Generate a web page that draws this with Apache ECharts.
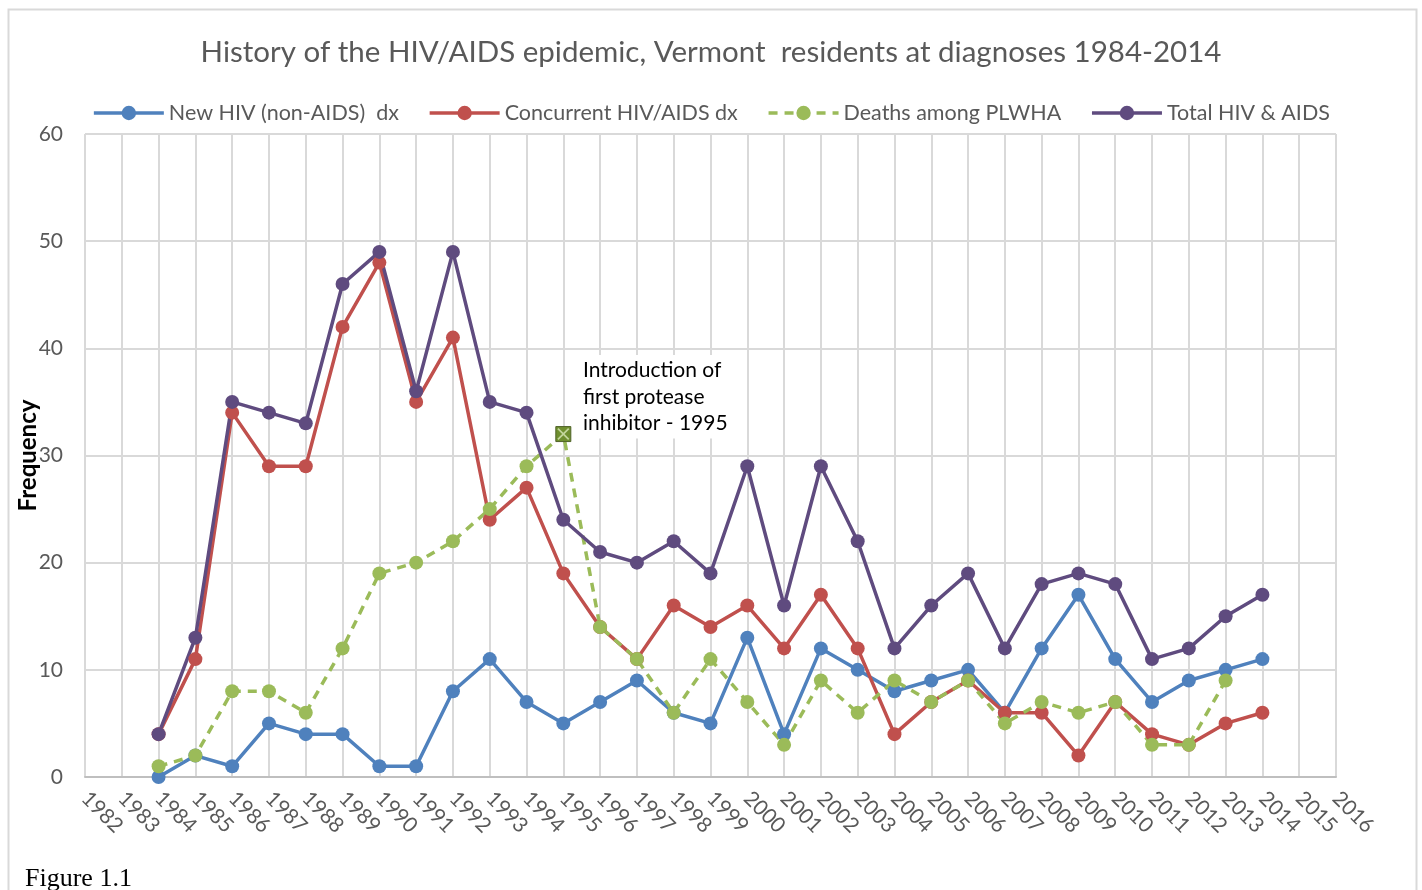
<!DOCTYPE html>
<html>
<head>
<meta charset="utf-8">
<script src="https://cdn.jsdelivr.net/npm/echarts@6/dist/echarts.min.js"></script>
<style>html,body{margin:0;padding:0;background:#fff;}#chart{width:1422px;height:890px;}</style>
</head>
<body>
<div id="chart"></div>
<script>
const years = [1984,1985,1986,1987,1988,1989,1990,1991,1992,1993,1994,1995,1996,1997,1998,1999,2000,2001,2002,2003,2004,2005,2006,2007,2008,2009,2010,2011,2012,2013,2014];
const newHIV = [0,2,1,5,4,4,1,1,8,11,7,5,7,9,6,5,13,4,12,10,8,9,10,6,12,17,11,7,9,10,11];
const concurrent = [4,11,34,29,29,42,48,35,41,24,27,19,14,11,16,14,16,12,17,12,4,7,9,6,6,2,7,4,3,5,6];
const deaths = [1,2,8,8,6,12,19,20,22,25,29,32,14,11,6,11,7,3,9,6,9,7,9,5,7,6,7,3,3,9,null];
const total = [4,13,35,34,33,46,49,36,49,35,34,24,21,20,22,19,29,16,29,22,12,16,19,12,18,19,18,11,12,15,17];
const seriesNames = ['New HIV (non-AIDS)  dx','Concurrent HIV/AIDS dx','Deaths among PLWHA','Total HIV & AIDS'];
const annotationYear = 1995;
const annotationText = 'Introduction of\nfirst protease\ninhibitor - 1995';

const pairs = arr => years.map((y,i) => [y, arr[i]]);
const font = 'Lato, "Open Sans", sans-serif';
const chart = echarts.init(document.getElementById('chart'));

function mk(name, data, color, dashed) {
  return {
    name: name, type: 'line', data: data, symbol: 'circle', symbolSize: 14,
    lineStyle: { color: color, width: 3.5, type: dashed ? [9, 7] : 'solid' },
    itemStyle: { color: color },
    connectNulls: false, animation: false
  };
}
const deathsData = pairs(deaths).map(p => p[0] === annotationYear ? {
  value: p, symbol: 'rect', symbolSize: 15,
  itemStyle: { color: '#6f8f2f', borderColor: '#4f6228', borderWidth: 1 }
} : p);
const deathsSeries = mk(seriesNames[2], deathsData, '#9bbb59', true);
deathsSeries.markPoint = {
  symbol: 'path://M1,0 L5,4 L9,0 L10,1 L6,5 L10,9 L9,10 L5,6 L1,10 L0,9 L4,5 L0,1Z',
  symbolSize: 12, silent: true, animation: false,
  itemStyle: { color: '#c3d69b' }, label: { show: false },
  data: [{ coord: [annotationYear, deaths[years.indexOf(annotationYear)]] }]
};

chart.setOption({
  animation: false,
  backgroundColor: '#fff',
  title: {
    text: 'History of the HIV/AIDS epidemic, Vermont  residents at diagnoses 1984-2014',
    left: 'center', top: 32,
    textStyle: { fontFamily: font, fontSize: 29.5, fontWeight: 'normal', color: '#595959' }
  },
  legend: {
    top: 97, left: 'center', itemWidth: 70, itemHeight: 18, itemGap: 29,
    textStyle: { fontFamily: font, fontSize: 21.5, color: '#595959' },
    lineStyle: { width: 3.5 },
    data: seriesNames
  },
  grid: { left: 85, right: 86, top: 134, bottom: 113, containLabel: false, outerBoundsMode: 'none' },
  xAxis: {
    type: 'value', min: 1982, max: 2016, interval: 1,
    axisLine: { show: true, lineStyle: { color: '#bfbfbf', width: 2 } },
    axisTick: { show: false },
    splitLine: { show: true, lineStyle: { color: '#d9d9d9', width: 2 } },
    axisLabel: { rotate: -45, margin: 18, fontFamily: font, fontSize: 21, color: '#595959', formatter: v => String(v) }
  },
  yAxis: {
    type: 'value', min: 0, max: 60, interval: 10,
    name: 'Frequency', nameLocation: 'middle', nameGap: 45, nameMoveOverlap: false,
    nameTextStyle: { fontFamily: font, fontSize: 24, fontWeight: 'bold', color: '#000' },
    axisLine: { show: false }, axisTick: { show: false },
    splitLine: { show: true, lineStyle: { color: '#d9d9d9', width: 2 } },
    axisLabel: { margin: 22, fontFamily: font, fontSize: 21, color: '#595959' }
  },
  series: [
    mk(seriesNames[0], pairs(newHIV), '#4f81bd', false),
    mk(seriesNames[1], pairs(concurrent), '#c0504d', false),
    deathsSeries,
    mk(seriesNames[3], pairs(total), '#5f4b7f', false)
  ],
  graphic: [
    { type: 'rect', left: 6, top: 7, shape: { width: 1408, height: 900 }, silent: true,
      style: { fill: 'none', stroke: '#d9d9d9', lineWidth: 2 } },
    { type: 'text', left: 580, top: 355, silent: true, z: 100,
      style: { text: annotationText, font: '21px ' + font, fill: '#000', lineHeight: 26.5,
               backgroundColor: '#fff', padding: [2, 4, 2, 3] } },
    { type: 'text', left: 25, top: 866, silent: true,
      style: { text: 'Figure 1.1', font: '26px "Liberation Serif", "DejaVu Serif", serif', fill: '#000' } }
  ]
});
</script>
</body>
</html>
